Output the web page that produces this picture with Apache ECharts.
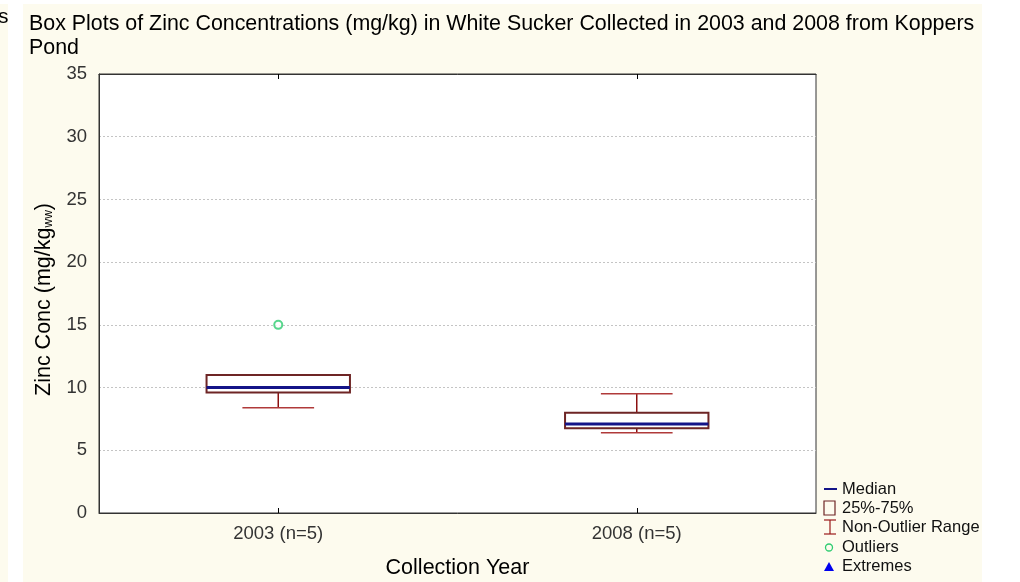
<!DOCTYPE html>
<html>
<head>
<meta charset="utf-8">
<script src="https://cdn.jsdelivr.net/npm/echarts@6/dist/echarts.min.js"></script>
<style>
html,body{margin:0;padding:0;background:#fff;}
#main{width:1020px;height:582px;}
</style>
</head>
<body>
<div id="main"></div>
<script>
// ---- data ----
var categories = ['2003 (n=5)', '2008 (n=5)'];
var whiskerLow = [8.4, 6.4];
var quartile1 = [9.6, 6.75];
var medians = [10.0, 7.1];
var quartile3 = [11.0, 8.0];
var whiskerHigh = [11.0, 9.5];
var outlierCats = ['2003 (n=5)'];
var outlierValues = [15.0];
var yTicks = [0, 5, 10, 15, 20, 25, 30, 35];

var FONT = 'Arial, "Liberation Sans", sans-serif';
var CREAM = '#fdfbee';

var boxData = categories.map(function (c, i) {
  return [i, whiskerLow[i], quartile1[i], medians[i], quartile3[i], whiskerHigh[i]];
});
var outlierData = outlierCats.map(function (c, i) {
  return [categories.indexOf(c), outlierValues[i]];
});

function renderBox(params, api) {
  var x = api.value(0);
  var pLow = api.coord([x, api.value(1)]);
  var pQ1 = api.coord([x, api.value(2)]);
  var pMed = api.coord([x, api.value(3)]);
  var pQ3 = api.coord([x, api.value(4)]);
  var pHigh = api.coord([x, api.value(5)]);
  var band = api.size([1, 0])[0];
  var bw = band * 0.4;
  var cw = bw / 2;
  var cx = pMed[0];
  var wStyle = { stroke: '#8b1010', lineWidth: 1.5 };
  var cStyle = { stroke: '#b03a3a', lineWidth: 1.5 };
  var children = [];
  if (pHigh[1] < pQ3[1] - 0.5) {
    children.push({ type: 'line', shape: { x1: cx, y1: pQ3[1], x2: cx, y2: pHigh[1] }, style: wStyle });
    children.push({ type: 'line', shape: { x1: cx - cw / 2, y1: pHigh[1], x2: cx + cw / 2, y2: pHigh[1] }, style: cStyle });
  }
  if (pLow[1] > pQ1[1] + 0.5) {
    children.push({ type: 'line', shape: { x1: cx, y1: pQ1[1], x2: cx, y2: pLow[1] }, style: wStyle });
    children.push({ type: 'line', shape: { x1: cx - cw / 2, y1: pLow[1], x2: cx + cw / 2, y2: pLow[1] }, style: cStyle });
  }
  children.push({
    type: 'rect',
    shape: { x: cx - bw / 2, y: pQ3[1], width: bw, height: pQ1[1] - pQ3[1] },
    style: { fill: '#fff', stroke: '#6e2525', lineWidth: 2 }
  });
  children.push({
    type: 'line',
    shape: { x1: cx - bw / 2, y1: pMed[1], x2: cx + bw / 2, y2: pMed[1] },
    style: { stroke: '#141488', lineWidth: 3 }
  });
  return { type: 'group', children: children };
}

var legendX = 824, legendTextX = 842;
var legendItems = [
  { text: 'Median', y: 489 },
  { text: '25%-75%', y: 508 },
  { text: 'Non-Outlier Range', y: 527 },
  { text: 'Outliers', y: 547 },
  { text: 'Extremes', y: 566 }
];
var graphics = [
  { type: 'rect', z: -10, shape: { x: 0, y: 4, width: 8, height: 578 }, style: { fill: CREAM } },
  { type: 'rect', z: -10, shape: { x: 23, y: 4, width: 959, height: 578 }, style: { fill: CREAM } },
  { type: 'text', x: -2, y: 17, style: { text: 's', font: '21px ' + FONT, fill: '#000', textVerticalAlign: 'middle' } },
  // legend symbols
  { type: 'line', shape: { x1: legendX, y1: 489, x2: legendX + 13, y2: 489 }, style: { stroke: '#141488', lineWidth: 2 } },
  { type: 'rect', shape: { x: legendX, y: 501, width: 11, height: 14 }, style: { fill: 'none', stroke: '#6e2525', lineWidth: 1.2 } },
  { type: 'line', shape: { x1: legendX + 6, y1: 520, x2: legendX + 6, y2: 534 }, style: { stroke: '#9b1a1a', lineWidth: 1.2 } },
  { type: 'line', shape: { x1: legendX, y1: 520, x2: legendX + 12, y2: 520 }, style: { stroke: '#9b1a1a', lineWidth: 1.2 } },
  { type: 'line', shape: { x1: legendX, y1: 534, x2: legendX + 12, y2: 534 }, style: { stroke: '#9b1a1a', lineWidth: 1.2 } },
  { type: 'circle', shape: { cx: legendX + 5, cy: 547.5, r: 3.5 }, style: { fill: 'none', stroke: '#2ecc71', lineWidth: 1.3 } },
  { type: 'polygon', shape: { points: [[legendX, 571], [legendX + 10, 571], [legendX + 5, 562]] }, style: { fill: '#0000ee' } }
];
legendItems.forEach(function (it) {
  graphics.push({
    type: 'text', x: legendTextX, y: it.y,
    style: { text: it.text, font: '16.5px ' + FONT, fill: '#111', textVerticalAlign: 'middle' }
  });
});

var chart = echarts.init(document.getElementById('main'));
chart.setOption({
  animation: false,
  backgroundColor: 'transparent',
  title: {
    text: 'Box Plots of Zinc Concentrations (mg/kg) in White Sucker Collected in 2003 and 2008 from Koppers\nPond',
    left: 29, top: 12, padding: 0,
    textStyle: { fontFamily: FONT, fontSize: 21.4, fontWeight: 'normal', color: '#000', lineHeight: 24 }
  },
  graphic: graphics,
  grid: {
    left: 99, right: 204, top: 74, bottom: 69,
    outerBoundsMode: 'none',
    show: true, backgroundColor: '#fff', borderColor: '#333', borderWidth: 1
  },
  xAxis: [{
    type: 'category',
    data: categories,
    position: 'bottom',
    name: 'Collection Year',
    nameLocation: 'middle',
    nameGap: 44,
    nameTextStyle: { fontFamily: FONT, fontSize: 21.5, color: '#000' },
    axisLine: { lineStyle: { color: '#333', width: 1 } },
    axisTick: { show: true, inside: true, length: 5, alignWithLabel: true, lineStyle: { color: '#000' } },
    axisLabel: { fontFamily: FONT, fontSize: 18.5, color: '#333', margin: 11 },
    splitLine: { show: false }
  }, {
    type: 'category',
    data: categories,
    position: 'top',
    axisLine: { lineStyle: { color: '#333', width: 1 } },
    axisTick: { show: true, inside: true, length: 5, alignWithLabel: true, lineStyle: { color: '#000' } },
    axisLabel: { show: false },
    splitLine: { show: false }
  }],
  yAxis: {
    type: 'value',
    min: yTicks[0], max: yTicks[yTicks.length - 1], interval: 5,
    name: 'Zinc Conc (mg/kg{s|ww})',
    nameLocation: 'middle',
    nameRotate: 90,
    nameGap: 43,
    nameTextStyle: {
      fontFamily: FONT, fontSize: 21.5, color: '#000',
      padding: [0, 12, 0, 0],
      rich: { s: { fontFamily: FONT, fontSize: 12, color: '#000', padding: [8, 0, 0, 0] } }
    },
    axisLine: { show: true, lineStyle: { color: '#333', width: 1 } },
    axisTick: { show: false },
    axisLabel: { fontFamily: FONT, fontSize: 18.5, color: '#333', margin: 12 },
    splitLine: { show: true, lineStyle: { color: '#c4c4c4', type: [2, 2], width: 1 } }
  },
  series: [{
    type: 'custom',
    name: 'Box',
    renderItem: renderBox,
    encode: { x: 0, y: [1, 2, 3, 4, 5] },
    data: boxData,
    z: 5
  }, {
    type: 'scatter',
    name: 'Outliers',
    data: outlierData,
    symbol: 'emptyCircle',
    symbolSize: 8,
    itemStyle: { color: '#2ecc71', borderColor: '#2ecc71', borderWidth: 1.3 },
    z: 6
  }]
});
</script>
</body>
</html>
